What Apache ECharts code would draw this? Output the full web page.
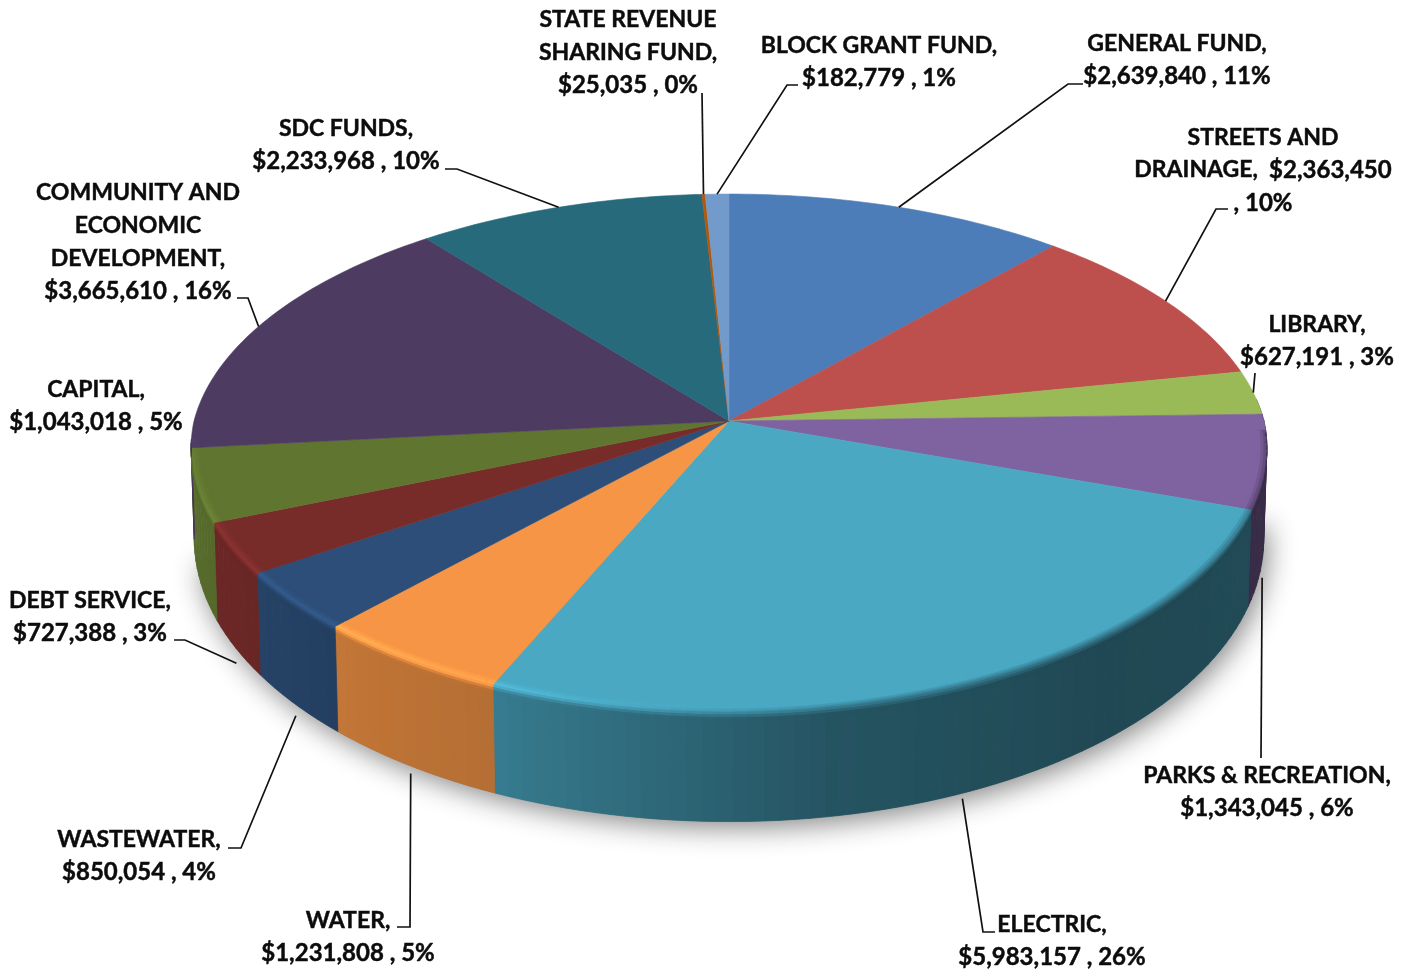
<!DOCTYPE html>
<html>
<head>
<meta charset="utf-8">
<title>Budget by fund</title>
<style>html,body{margin:0;padding:0;background:#fff}#chart{width:1412px;height:972px}</style>
<script src="https://cdn.jsdelivr.net/npm/echarts@6/dist/echarts.min.js"></script>
</head>
<body>
<div id="chart"></div>
<script>
// Fund budgets, clockwise from twelve o'clock.
const categories = ['GENERAL FUND,', 'STREETS AND\nDRAINAGE,', 'LIBRARY,', 'PARKS & RECREATION,', 'ELECTRIC,', 'WATER,', 'WASTEWATER,', 'DEBT SERVICE,', 'CAPITAL,', 'COMMUNITY AND\nECONOMIC\nDEVELOPMENT,', 'SDC FUNDS,', 'STATE REVENUE\nSHARING FUND,', 'BLOCK GRANT FUND,'];
const amounts = [2639840, 2363450, 627191, 1343045, 5983157, 1231808, 850054, 727388, 1043018, 3665610, 2233968, 25035, 182779];
const percents = [11, 10, 3, 6, 26, 5, 4, 3, 5, 16, 10, 0, 1];
const sliceColors = ['#4d7db8', '#bd4f4c', '#9aba58', '#7f62a0', '#4aa8c3', '#f59545', '#2c4e78', '#782c2a', '#5f7530', '#4d3b62', '#276a7c', '#b65708', '#729aca'];

// Projection of the disc: a unit circle through a perspective divide.
// The near half of the top face foreshortens a little less across than the far half.
const TOP = {cx: 729, cy: 421, bx: 535, by: 255, k: 0.1236, kNear: 0.103};
const BOTTOM = {cx: 729, cy: 510, bx: 532, by: 280, k: 0.1014, kNear: 0.1014};

// Label centres and the bends of their leader lines.
const labelCentres = [[1177, 60], [1263, 170], [1317, 341], [1267, 792], [1052, 941], [348, 937], [139, 856], [90, 617], [96, 406], [138, 242], [346, 145], [628, 52.7], [879, 61.5]];
const leaderBends = [[[1068, 84], [1083, 84]], [[1216, 209], [1228, 209]], [[1255, 373]], [[1261, 758]], [[983, 932], [995, 932]], [[410, 927], [397, 927]], [[241, 848], [228, 848]], [[185, 640], [174, 640]], null, [[248, 298], [237, 298]], [[457, 169], [445, 169]], [[702, 93]], [[787, 85], [798, 85]]];
// How far down the wall each leader starts: 0 is the top rim, 1 the bottom rim.
const leaderDrop = [0, 0, 0, 1.25, 1.05, 1.07, 1.11, 1.15, 0, 0, 0, 0, 0];

const total = amounts.reduce((a, b) => a + b, 0);
const RAD = Math.PI / 180;
const starts = [];
amounts.reduce((sum, v, i) => { starts[i] = sum / total * 360; return sum + v; }, 0);
const endOf = i => starts[i] + amounts[i] / total * 360;

function project(p, theta, r) {
  const u = Math.sin(theta * RAD) * r, v = -Math.cos(theta * RAD) * r;
  const dx = 1 - (v > 0 ? p.kNear : p.k) * v, dy = 1 - p.k * v;
  return [p.cx + p.bx * u / dx, p.cy + p.by * v / dy];
}
const lerp = (a, b, t) => [a[0] + (b[0] - a[0]) * t, a[1] + (b[1] - a[1]) * t];
const wall = (theta, r, t) => lerp(project(TOP, theta, r), project(BOTTOM, theta, r), t);
const hexRgb = h => [1, 3, 5].map(i => parseInt(h.substr(i, 2), 16));
const rgb = c => 'rgb(' + c.map(x => Math.max(0, Math.min(255, Math.round(x)))).join(',') + ')';
const table = (pts, x) => {
  if (x <= pts[0][0]) return pts[0][1];
  for (let i = 1; i < pts.length; i++) {
    if (x <= pts[i][0]) {
      const f = (x - pts[i - 1][0]) / (pts[i][0] - pts[i - 1][0]);
      return pts[i - 1][1] + (pts[i][1] - pts[i - 1][1]) * f;
    }
  }
  return pts[pts.length - 1][1];
};
// Wall brightness and rim highlight as the light moves round the disc.
const wallShade = th => table([[90, 0.45], [140, 0.43], [170, 0.5], [190, 0.64], [204, 0.74], [222, 0.79], [240, 0.88], [260, 0.92], [300, 0.92]], th);
const rimGlow = th => table([[165, 0], [200, 0.85], [220, 1], [250, 0.6], [275, 0.2], [300, 0]], th);

function segments(i, stepSize, lo, hi) {
  const a = Math.max(starts[i], lo), b = Math.min(endOf(i), hi);
  const out = [];
  if (b <= a) return out;
  const n = Math.ceil((b - a) / stepSize);
  for (let j = 0; j < n; j++) out.push([a + (b - a) * j / n, a + (b - a) * (j + 1) / n]);
  return out;
}

function renderWall(params) {
  const i = params.dataIndex, base = hexRgb(sliceColors[i]);
  const children = segments(i, 1.5, 85, 266).map(([a, b]) => {
    const f = wallShade((a + b) / 2);
    const c = rgb(base.map(x => x * f));
    return {type: 'polygon', shape: {points: [wall(a, 1, 0), wall(b, 1, 0), wall(b, 1, 1), wall(a, 1, 1)]}, style: {fill: c, stroke: c, lineWidth: 0.7}};
  });
  return {type: 'group', children};
}

function renderTop(params) {
  const i = params.dataIndex, c = sliceColors[i];
  const points = [[TOP.cx, TOP.cy]];
  const a = starts[i], b = endOf(i), n = Math.max(2, Math.ceil((b - a)));
  for (let j = 0; j <= n; j++) points.push(project(TOP, a + (b - a) * j / n, 1));
  return {type: 'polygon', shape: {points}, style: {fill: c, stroke: c, lineWidth: 0.6}};
}

// Rounded edge between the top face and the wall, built from thin strips.
const BEVEL_STRIPS = 8;
function bevelPoint(theta, s) {
  const r = Math.min(1, 0.978 + 0.044 * s);
  const t = Math.max(0, (s - 0.5) * 2 * 0.1);
  return wall(theta, r, t);
}
function renderBevel(params) {
  const i = params.dataIndex, base = hexRgb(sliceColors[i]);
  const children = [];
  segments(i, 1.5, 92, 266).forEach(([a, b]) => {
    const mid = (a + b) / 2, side = base.map(x => x * wallShade(mid)), glow = rimGlow(mid);
    for (let k = 0; k < BEVEL_STRIPS; k++) {
      const s0 = k / BEVEL_STRIPS, s1 = (k + 1) / BEVEL_STRIPS, s = (s0 + s1) / 2;
      const bump = Math.exp(-Math.pow((s - 0.48) / 0.2, 2));
      const mixAmt = Math.min(1, Math.max(0, (s - 0.2) / 0.6));
      const c = rgb(base.map((x, q) => (x + (side[q] - x) * mixAmt) * (1 + 0.3 * glow * bump)));
      children.push({type: 'polygon', shape: {points: [bevelPoint(a, s0), bevelPoint(b, s0), bevelPoint(b, s1), bevelPoint(a, s1)]}, style: {fill: c, stroke: c, lineWidth: 0.5}});
    }
  });
  return {type: 'group', children};
}

// Soft drop shadow under the disc; only the near half shows past the wall.
function renderShadow() {
  const points = [];
  for (let th = 92; th < 262; th += 2) points.push(project(BOTTOM, th, 1));
  return {type: 'polygon', shape: {points}, style: {fill: '#777', shadowBlur: 28, shadowColor: 'rgba(0,0,0,0.48)', shadowOffsetX: 4, shadowOffsetY: 6}};
}

function renderLeader(params) {
  const i = params.dataIndex, bends = leaderBends[i];
  if (!bends) return {type: 'group', children: []};
  const mid = (starts[i] + endOf(i)) / 2;
  const start = wall(mid, 1, leaderDrop[i]);
  return {type: 'polyline', shape: {points: [start].concat(bends)}, style: {stroke: '#111', lineWidth: 1.7, fill: null}};
}

const money = v => '$' + v.toLocaleString('en-US');
const nameLines = i => categories[i].split('\n').map(t => '{n|' + t + '}');
function labelText(i) {
  const lines = nameLines(i), pct = ', ' + percents[i] + '%', val = money(amounts[i]);
  if (categories[i].startsWith('STREETS')) {
    lines[lines.length - 1] += '{n|  }{v|' + val + '}';
    lines.push('{v|' + pct + '}');
  } else {
    lines.push('{v|' + val + ' ' + pct + '}');
  }
  return lines.join('\n');
}
const labelInk = {fill: '#0c0c0c', stroke: '#0c0c0c', lineWidth: 0.45, lineHeight: 32.8, align: 'center', verticalAlign: 'middle'};
function renderLabel(params) {
  const i = params.dataIndex;
  return {
    type: 'text',
    x: labelCentres[i][0], y: labelCentres[i][1],
    style: {
      text: labelText(i), align: 'center', verticalAlign: 'middle',
      rich: {
        n: Object.assign({font: 'bold 23px Lato, sans-serif'}, labelInk),
        v: Object.assign({font: 'bold 24px Lato, sans-serif'}, labelInk)
      }
    }
  };
}

const rows = amounts.map((v, i) => [i, v]);
const layer = (renderItem, z, data) => ({type: 'custom', coordinateSystem: 'none', renderItem, data: data || rows, z, silent: true, animation: false, clip: false});

const chart = echarts.init(document.getElementById('chart'), null, {renderer: 'canvas'});
chart.setOption({
  backgroundColor: '#fff',
  animation: false,
  series: [
    layer(renderShadow, 1, [[0]]),
    layer(renderWall, 2),
    layer(renderTop, 3),
    layer(renderBevel, 4),
    layer(renderLeader, 5),
    layer(renderLabel, 6)
  ]
});
</script>
</body>
</html>
